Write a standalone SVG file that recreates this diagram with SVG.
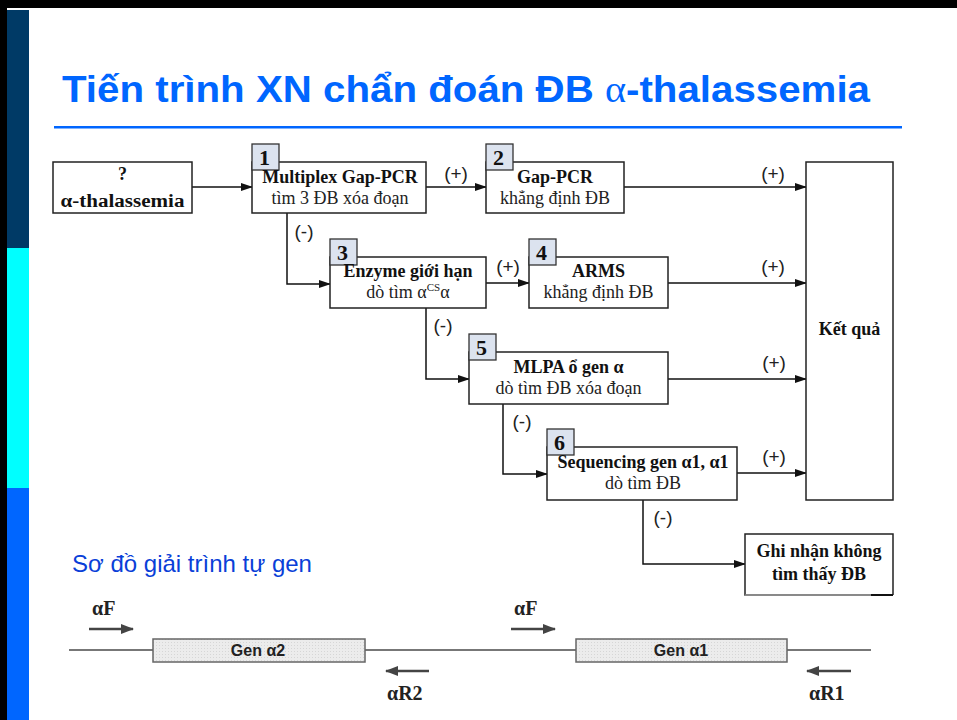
<svg xmlns="http://www.w3.org/2000/svg" width="957" height="720" viewBox="0 0 957 720">
  <defs>
    <marker id="arr" markerWidth="12" markerHeight="8" refX="11" refY="4" orient="auto" markerUnits="userSpaceOnUse">
      <path d="M0,0 L12,4 L0,8 Z" fill="#111"/>
    </marker>
    <marker id="parr" markerWidth="13" markerHeight="10" refX="12" refY="5" orient="auto" markerUnits="userSpaceOnUse">
      <path d="M0,0 L13,5 L0,10 Z" fill="#444"/>
    </marker>
    <pattern id="dots" width="3" height="3" patternUnits="userSpaceOnUse">
      <rect width="3" height="3" fill="#ececec"/>
      <rect width="1" height="1" fill="#d6d6d6"/>
    </pattern>
  </defs>
  <style>
    .box { fill: #fff; stroke: #222; stroke-width: 1.5; }
    .tab { fill: #dce3ef; stroke: #333; stroke-width: 1.3; }
    .num { font-family: "Liberation Serif", serif; font-weight: bold; font-size: 22px; fill: #111; }
    .b { font-family: "Liberation Serif", serif; font-weight: bold; font-size: 18px; fill: #111; text-anchor: middle; }
    .r { font-family: "Liberation Serif", serif; font-size: 18px; fill: #222; text-anchor: middle; }
    .lbl { font-family: "Liberation Sans", Arial, sans-serif; font-size: 19px; fill: #222; text-anchor: middle; }
    .wire { fill: none; stroke: #111; stroke-width: 1.5; }
    .gene { fill: url(#dots); stroke: #666; stroke-width: 1.5; }
    .gtxt { font-family: "Liberation Sans", Arial, sans-serif; font-weight: bold; font-size: 16px; fill: #222; text-anchor: middle; }
    .primer { font-family: "Liberation Serif", serif; font-weight: bold; font-size: 20px; fill: #222; }
    .parrow { stroke: #444; stroke-width: 2.5; fill: none; }
  </style>

  <!-- slide frame -->
  <rect x="0" y="0" width="957" height="720" fill="#fff"/>
  <rect x="0" y="0" width="957" height="8" fill="#000"/>
  <rect x="0" y="0" width="7" height="720" fill="#000"/>
  <rect x="7" y="10" width="22" height="238" fill="#003a66"/>
  <rect x="7" y="248" width="22" height="240" fill="#00ffff"/>
  <rect x="7" y="488" width="22" height="232" fill="#0066ff"/>

  <!-- title -->
  <text x="62" y="102" font-family="'Liberation Sans', Arial, sans-serif" font-weight="bold" font-size="37" fill="#0066ff" textLength="808" lengthAdjust="spacingAndGlyphs">Tiến trình XN chẩn đoán ĐB <tspan font-family="'Liberation Serif', serif" font-weight="normal">α</tspan>-thalassemia</text>
  <rect x="54" y="126" width="848" height="2.5" fill="#0066ff"/>

  <!-- connectors -->
  <g id="connectors">
    <line class="wire" x1="192" y1="187" x2="252" y2="187" marker-end="url(#arr)"/>
    <line class="wire" x1="426" y1="187" x2="486" y2="187" marker-end="url(#arr)"/>
    <text class="lbl" x="456" y="180">(+)</text>
    <line class="wire" x1="624" y1="187" x2="806" y2="187" marker-end="url(#arr)"/>
    <text class="lbl" x="773" y="180">(+)</text>

    <polyline class="wire" points="287,213 287,284 330,284" marker-end="url(#arr)"/>
    <text class="lbl" x="304" y="238">(-)</text>
    <line class="wire" x1="486" y1="283" x2="529" y2="283" marker-end="url(#arr)"/>
    <text class="lbl" x="508" y="273">(+)</text>
    <line class="wire" x1="668" y1="283" x2="806" y2="283" marker-end="url(#arr)"/>
    <text class="lbl" x="773" y="273">(+)</text>

    <polyline class="wire" points="426,308 426,379 469,379" marker-end="url(#arr)"/>
    <text class="lbl" x="443" y="332">(-)</text>
    <line class="wire" x1="668" y1="379" x2="806" y2="379" marker-end="url(#arr)"/>
    <text class="lbl" x="774" y="369">(+)</text>

    <polyline class="wire" points="503,404 503,474 547,474" marker-end="url(#arr)"/>
    <text class="lbl" x="522" y="428">(-)</text>
    <line class="wire" x1="737" y1="473" x2="806" y2="473" marker-end="url(#arr)"/>
    <text class="lbl" x="774" y="463">(+)</text>

    <polyline class="wire" points="643,500 643,564 745,564" marker-end="url(#arr)"/>
    <text class="lbl" x="663" y="524">(-)</text>
  </g>

  <!-- start -->
  <g id="start">
    <rect class="box" x="53" y="162" width="139" height="51"/>
    <text class="b" x="122.5" y="180" font-size="21">?</text>
    <text class="b" x="122.5" y="207" font-size="21" textLength="124" lengthAdjust="spacingAndGlyphs">α-thalassemia</text>
  </g>

  <!-- step 1 -->
  <g id="step1">
    <rect class="box" x="252" y="162" width="174" height="51"/>
    <rect class="tab" x="252" y="144" width="27" height="26"/>
    <text class="num" x="259" y="165">1</text>
    <text class="b" x="340" y="183">Multiplex Gap-PCR</text>
    <text class="r" x="340" y="204">tìm 3 ĐB xóa đoạn</text>
  </g>

  <!-- step 2 -->
  <g id="step2">
    <rect class="box" x="486" y="162" width="138" height="51"/>
    <rect class="tab" x="486" y="144" width="27" height="26"/>
    <text class="num" x="493" y="165">2</text>
    <text class="b" x="555" y="183">Gap-PCR</text>
    <text class="r" x="555" y="204">khẳng định ĐB</text>
  </g>

  <!-- step 3 -->
  <g id="step3">
    <rect class="box" x="330" y="257" width="156" height="51"/>
    <rect class="tab" x="330" y="239" width="27" height="26"/>
    <text class="num" x="337" y="260">3</text>
    <text class="b" x="408" y="277">Enzyme giới hạn</text>
    <text class="r" x="408" y="298">dò tìm α<tspan font-size="11" dy="-7">CS</tspan><tspan dy="7">α</tspan></text>
  </g>

  <!-- step 4 -->
  <g id="step4">
    <rect class="box" x="529" y="257" width="139" height="51"/>
    <rect class="tab" x="529" y="239" width="27" height="26"/>
    <text class="num" x="536" y="260">4</text>
    <text class="b" x="598.5" y="277">ARMS</text>
    <text class="r" x="598.5" y="298">khẳng định ĐB</text>
  </g>

  <!-- step 5 -->
  <g id="step5">
    <rect class="box" x="469" y="352" width="199" height="52"/>
    <rect class="tab" x="469" y="334" width="27" height="26"/>
    <text class="num" x="476" y="355">5</text>
    <text class="b" x="568.5" y="373">MLPA ổ gen α</text>
    <text class="r" x="568.5" y="394">dò tìm ĐB xóa đoạn</text>
  </g>

  <!-- step 6 -->
  <g id="step6">
    <rect class="box" x="547" y="447" width="190" height="53"/>
    <rect class="tab" x="547" y="429" width="27" height="26"/>
    <text class="num" x="554" y="450">6</text>
    <text class="b" x="643" y="468">Sequencing gen α1, α1</text>
    <text class="r" x="643" y="489">dò tìm ĐB</text>
  </g>

  <!-- result -->
  <g id="result">
    <rect class="box" x="806" y="162" width="87" height="338"/>
    <text class="b" x="849.5" y="335" font-size="17">Kết quả</text>
  </g>

  <!-- no mutation found -->
  <g id="not-found">
    <path d="M871,595 L745,595 L745,534 L893,534 L893,595" fill="#fff" stroke="#222" stroke-width="1.5"/>
    <line x1="745" y1="595" x2="871" y2="595" stroke="#bbb" stroke-width="1"/>
    <line x1="871" y1="595" x2="893" y2="595" stroke="#111" stroke-width="2"/>
    <text class="b" x="819" y="557" font-size="17.5">Ghi nhận không</text>
    <text class="b" x="819" y="580" font-size="17.5">tìm thấy ĐB</text>
  </g>

  <!-- sequencing map -->
  <text x="72" y="572" font-family="'Liberation Sans', Arial, sans-serif" font-size="24" fill="#0a3fd8">Sơ đồ giải trình tự gen</text>

  <g id="gene-map">
    <line x1="69" y1="650" x2="871" y2="650" stroke="#777" stroke-width="2"/>
    <rect class="gene" x="153" y="639" width="212" height="23"/>
    <text class="gtxt" x="258" y="656">Gen α2</text>
    <rect class="gene" x="576" y="639" width="211" height="23"/>
    <text class="gtxt" x="681" y="656">Gen α1</text>

    <text class="primer" x="92" y="615">αF</text>
    <line class="parrow" x1="89" y1="629" x2="133" y2="629" marker-end="url(#parr)"/>
    <text class="primer" x="514" y="615">αF</text>
    <line class="parrow" x1="511" y1="629" x2="555" y2="629" marker-end="url(#parr)"/>

    <line class="parrow" x1="429" y1="671" x2="386" y2="671" marker-end="url(#parr)"/>
    <text class="primer" x="387" y="700">αR2</text>
    <line class="parrow" x1="851" y1="671" x2="807" y2="671" marker-end="url(#parr)"/>
    <text class="primer" x="809" y="700">αR1</text>
  </g>
</svg>
